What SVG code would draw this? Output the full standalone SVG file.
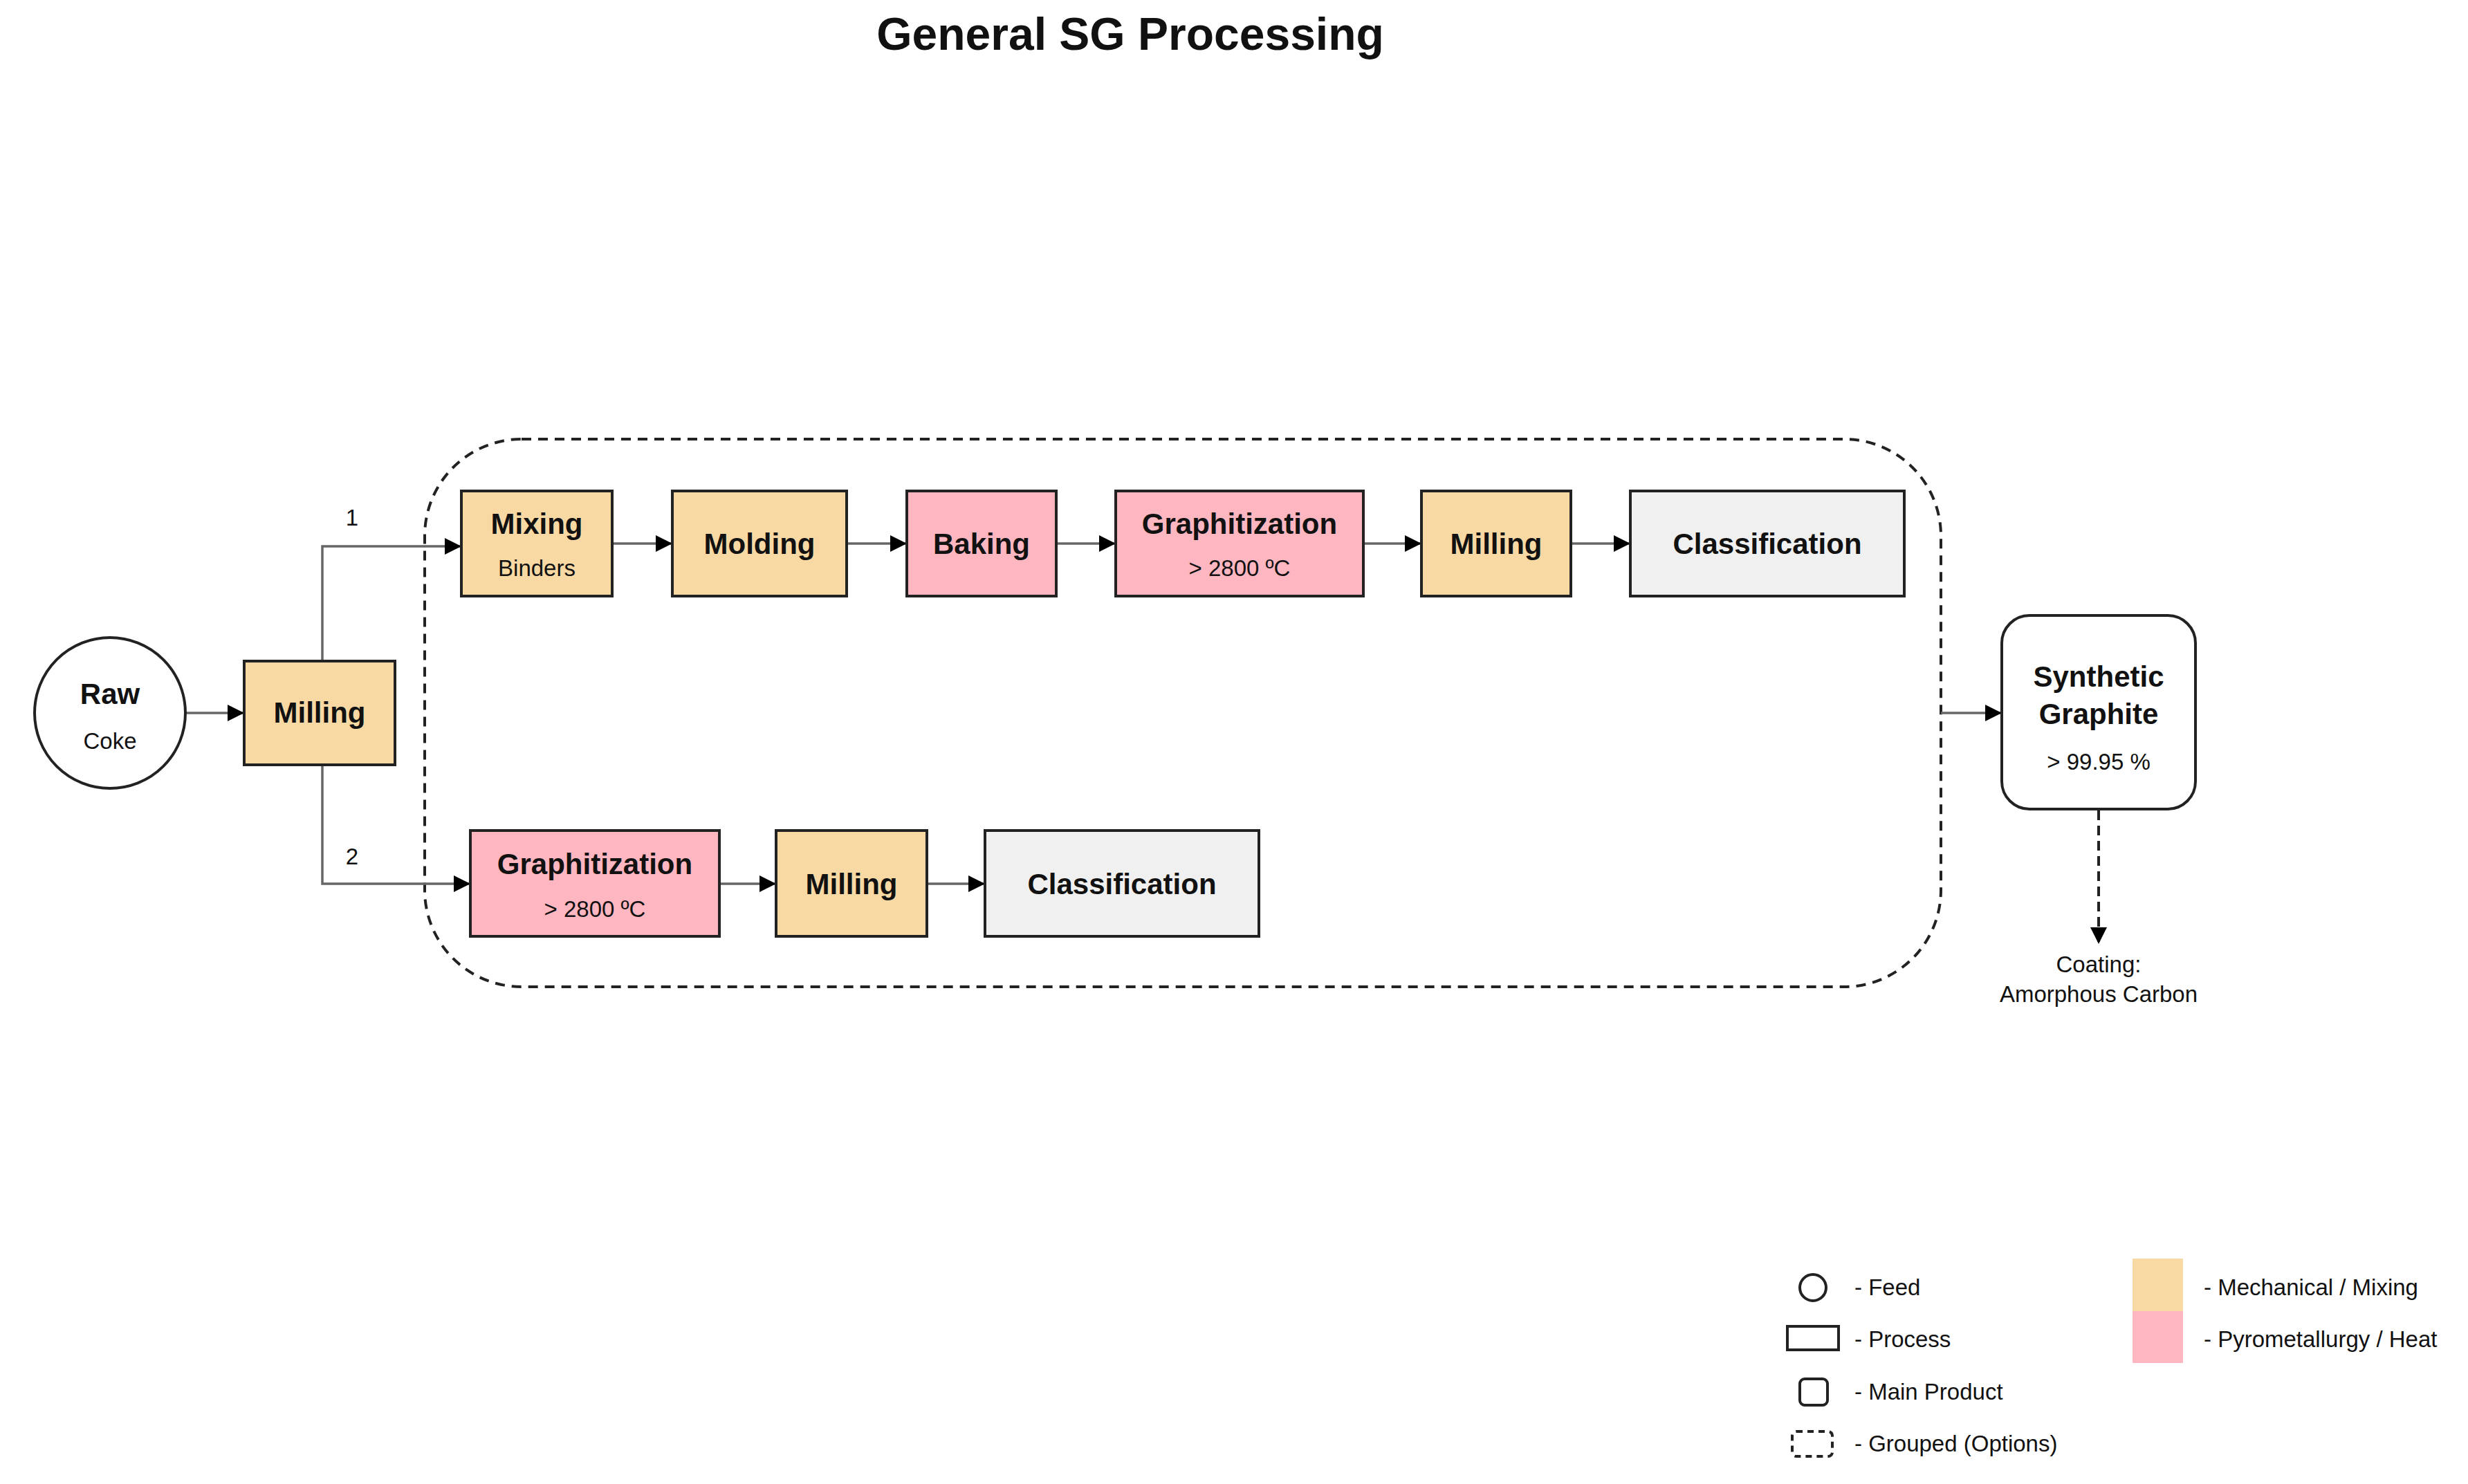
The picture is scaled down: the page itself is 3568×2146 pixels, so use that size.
<svg xmlns="http://www.w3.org/2000/svg" width="3568" height="2146" viewBox="0 0 3568 2146">
<style>
text{font-family:"Liberation Sans",Arial,sans-serif;fill:#111;text-anchor:middle}
.t{font-size:42px;font-weight:bold}
.s{font-size:33px}
.l{font-size:33px;text-anchor:start}
.mech{fill:#F8D9A4;stroke:#222;stroke-width:4}
.heat{fill:#FEB6C1;stroke:#222;stroke-width:4}
.grey{fill:#F0F0F0;stroke:#222;stroke-width:4}
.c{fill:none;stroke:#666;stroke-width:3.5}
</style>
<defs><marker id="a" viewBox="0 0 10 10" refX="10" refY="5" markerWidth="7" markerHeight="7" markerUnits="userSpaceOnUse" orient="auto"><path d="M0,0L10,5L0,10z" fill="#000"/></marker>
<marker id="b" viewBox="0 0 10 10" refX="10" refY="5" markerWidth="24" markerHeight="24" markerUnits="userSpaceOnUse" orient="auto"><path d="M0,0L10,5L0,10z" fill="#000"/></marker></defs>
<rect width="3568" height="2146" fill="#fff"/>
<text x="1634" y="72" style="font-size:66px;font-weight:bold">General SG Processing</text>
<g id="group"><rect x="614" y="635" width="2192" height="792" rx="140" fill="none" stroke="#222" stroke-width="4" stroke-dasharray="14 10"/></g>
<g id="connectors">
<path class="c" d="M268,1031H353" marker-end="url(#b)"/>
<path class="c" d="M466,956V790H667" marker-end="url(#b)"/>
<path class="c" d="M466,1106V1278H680" marker-end="url(#b)"/>
<path class="c" d="M885,786H972" marker-end="url(#b)"/>
<path class="c" d="M1224,786H1311" marker-end="url(#b)"/>
<path class="c" d="M1527,786H1613" marker-end="url(#b)"/>
<path class="c" d="M1971,786H2055" marker-end="url(#b)"/>
<path class="c" d="M2271,786H2357" marker-end="url(#b)"/>
<path class="c" d="M1040,1278H1122" marker-end="url(#b)"/>
<path class="c" d="M1340,1278H1424" marker-end="url(#b)"/>
<path class="c" d="M2806,1031H2894" marker-end="url(#b)"/>
<path d="M3034,1172V1365" fill="none" stroke="#222" stroke-width="4" stroke-dasharray="14 8" marker-end="url(#b)"/>
<text class="s" x="509" y="760">1</text>
<text class="s" x="509" y="1250">2</text>
</g>
<g id="raw"><circle cx="159" cy="1031" r="109" fill="#fff" stroke="#222" stroke-width="4"/><text class="t" x="159" y="1018">Raw</text><text class="s" x="159" y="1083">Coke</text></g>
<g id="milling0"><rect class="mech" x="353" y="956" width="218" height="150"/><text class="t" x="462" y="1045">Milling</text></g>
<g id="mixing"><rect class="mech" x="667" y="710" width="218" height="152"/><text class="t" x="776" y="772">Mixing</text><text class="s" x="776" y="833">Binders</text></g>
<g id="molding"><rect class="mech" x="972" y="710" width="252" height="152"/><text class="t" x="1098" y="801">Molding</text></g>
<g id="baking"><rect class="heat" x="1311" y="710" width="216" height="152"/><text class="t" x="1419" y="801">Baking</text></g>
<g id="graph1"><rect class="heat" x="1613" y="710" width="358" height="152"/><text class="t" x="1792" y="772">Graphitization</text><text class="s" x="1792" y="833">&gt; 2800 ºC</text></g>
<g id="milling1"><rect class="mech" x="2055" y="710" width="216" height="152"/><text class="t" x="2163" y="801">Milling</text></g>
<g id="class1"><rect class="grey" x="2357" y="710" width="396" height="152"/><text class="t" x="2555" y="801">Classification</text></g>
<g id="graph2"><rect class="heat" x="680" y="1201" width="360" height="153"/><text class="t" x="860" y="1264">Graphitization</text><text class="s" x="860" y="1326">&gt; 2800 ºC</text></g>
<g id="milling2"><rect class="mech" x="1122" y="1201" width="218" height="153"/><text class="t" x="1231" y="1293">Milling</text></g>
<g id="class2"><rect class="grey" x="1424" y="1201" width="396" height="153"/><text class="t" x="1622" y="1293">Classification</text></g>
<g id="product"><rect x="2894" y="890" width="280" height="280" rx="40" fill="#fff" stroke="#222" stroke-width="4"/><text class="t" x="3034" y="993">Synthetic</text><text class="t" x="3034" y="1047">Graphite</text><text class="s" x="3034" y="1113">&gt; 99.95 %</text></g>
<g id="coating"><text class="s" x="3034" y="1406">Coating:</text><text class="s" x="3034" y="1449">Amorphous Carbon</text></g>
<g id="legend">
<circle cx="2621" cy="1862" r="19" fill="#fff" stroke="#222" stroke-width="4"/>
<rect x="2584" y="1918" width="74" height="34" fill="#fff" stroke="#222" stroke-width="4"/>
<rect x="2602" y="1994" width="40" height="38" rx="7" fill="#fff" stroke="#222" stroke-width="4"/>
<rect x="2591" y="2070" width="58" height="36" rx="6" fill="none" stroke="#222" stroke-width="4" stroke-dasharray="9 7"/>
<text class="l" x="2681" y="1873">-  Feed</text>
<text class="l" x="2681" y="1948">-  Process</text>
<text class="l" x="2681" y="2024">-  Main Product</text>
<text class="l" x="2681" y="2099">-  Grouped (Options)</text>
<rect x="3083" y="1820" width="73" height="76" fill="#F8D9A4"/>
<rect x="3083" y="1896" width="73" height="75" fill="#FEB6C1"/>
<text class="l" x="3186" y="1873">-  Mechanical / Mixing</text>
<text class="l" x="3186" y="1948">-  Pyrometallurgy / Heat</text>
</g>
</svg>
